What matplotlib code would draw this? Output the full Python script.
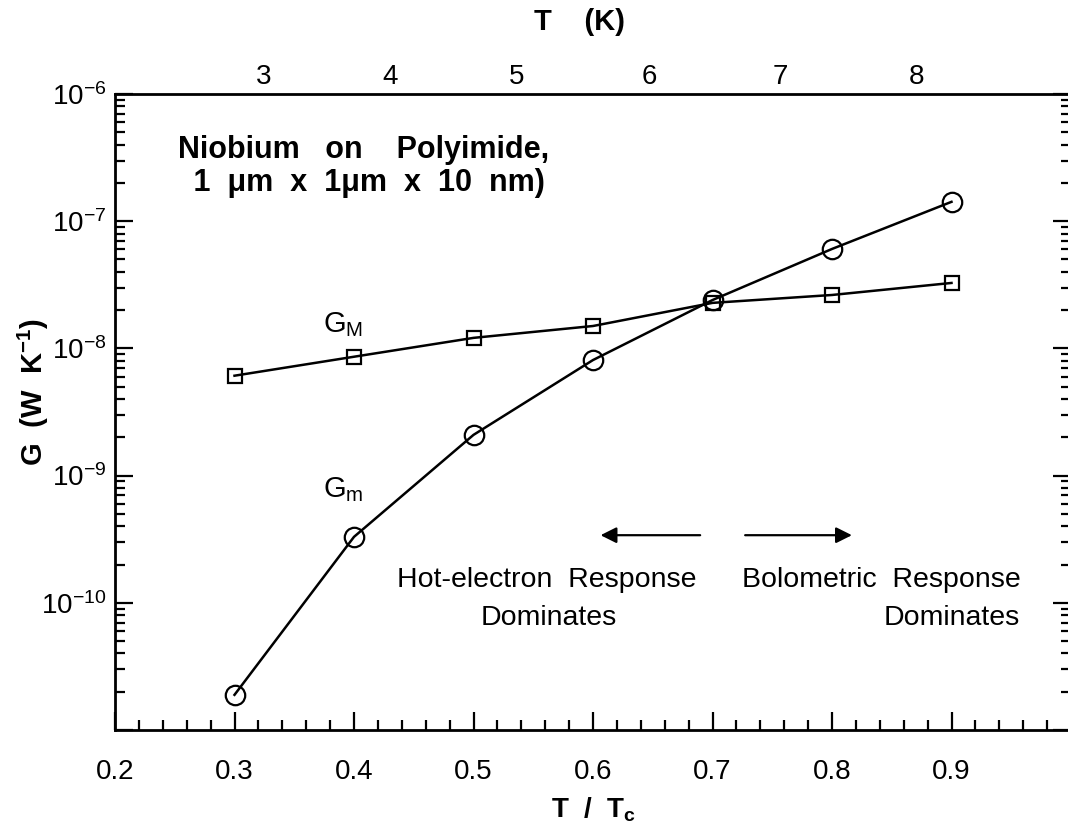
import matplotlib
matplotlib.use("Agg")
import matplotlib.pyplot as plt
import numpy as np
from matplotlib.ticker import FixedLocator, FixedFormatter, MultipleLocator, LogLocator, NullFormatter

plt.rcParams["font.family"] = ["Liberation Sans", "DejaVu Sans"]
plt.rcParams["mathtext.fontset"] = "custom"
plt.rcParams["mathtext.rm"] = "Liberation Sans"
plt.rcParams["mathtext.it"] = "Liberation Sans"
plt.rcParams["mathtext.bf"] = "Liberation Sans:bold"

# reduced temperature T/Tc of the measurements
t_red = [0.3, 0.4, 0.5, 0.6, 0.7, 0.8, 0.9]
# G_M (squares) and G_m (circles), W/K
g_big = [6.1e-9, 8.6e-9, 1.21e-8, 1.50e-8, 2.28e-8, 2.63e-8, 3.27e-8]
g_small = [1.89e-11, 3.30e-10, 2.09e-9, 8.1e-9, 2.40e-8, 6.05e-8, 1.42e-7]

# top axis: absolute temperature labels and where they sit on the T/Tc scale
top_T = ["3", "4", "5", "6", "7", "8"]
top_pos = [0.324, 0.430, 0.536, 0.647, 0.757, 0.871]

x_ticks = [0.2, 0.3, 0.4, 0.5, 0.6, 0.7, 0.8, 0.9]
x_tick_labels = ["0.2", "0.3", "0.4", "0.5", "0.6", "0.7", "0.8", "0.9"]
y_ticks = [1e-11, 1e-10, 1e-9, 1e-8, 1e-7, 1e-6]
y_tick_labels = ["", "$10^{\\mathregular{-}10}$", "$10^{\\mathregular{-}9}$", "$10^{\\mathregular{-}8}$",
                 "$10^{\\mathregular{-}7}$", "$10^{\\mathregular{-}6}$"]

fig = plt.figure(figsize=(10.68, 8.26), dpi=100, facecolor="white")
ax = fig.add_axes([115 / 1068, 96 / 826, 956 / 1068, 636 / 826])

ax.plot(t_red, g_big, color="black", linewidth=1.8, marker="s", markersize=10,
        markerfacecolor="none", markeredgewidth=1.6)
ax.plot(t_red, g_small, color="black", linewidth=1.8, marker="o", markersize=14,
        markerfacecolor="none", markeredgewidth=1.6)

ax.set_yscale("log")
ax.set_xlim(0.2, 1.0)
ax.set_ylim(1e-11, 1e-6)

ax.xaxis.set_major_locator(FixedLocator(x_ticks))
ax.xaxis.set_major_formatter(FixedFormatter(x_tick_labels))
ax.xaxis.set_minor_locator(MultipleLocator(0.02))
ax.yaxis.set_major_locator(FixedLocator(y_ticks))
ax.yaxis.set_major_formatter(FixedFormatter(y_tick_labels))
ax.yaxis.set_minor_locator(LogLocator(base=10, subs=np.arange(2, 10), numticks=20))
ax.yaxis.set_minor_formatter(NullFormatter())

ax.tick_params(which="both", direction="in", top=True, right=True, width=1.6, labelsize=20)
ax.tick_params(which="major", length=13)
ax.tick_params(which="minor", length=7)
ax.tick_params(axis="x", which="major", pad=21)
ax.tick_params(axis="y", which="major", pad=6)
for s in ax.spines.values():
    s.set_linewidth(2.0)

fig.text(593 / 1068, 1 - 810 / 826, "T  /  T$_\\mathbf{c}$", fontsize=20, fontweight="bold",
         ha="center", va="center")
fig.text(33 / 1068, 1 - 392 / 826, "G  (W  K$^{\\mathbf{-1}}$)", fontsize=21, fontweight="bold",
         ha="center", va="center", rotation=90)

ax2 = ax.twiny()
ax2.set_xlim(ax.get_xlim())
ax2.xaxis.set_major_locator(FixedLocator(top_pos))
ax2.xaxis.set_major_formatter(FixedFormatter(top_T))
ax2.xaxis.set_minor_locator(FixedLocator([]))
ax2.tick_params(axis="x", length=0, pad=3, labelsize=20)
for s in ax2.spines.values():
    s.set_visible(False)
fig.text(580 / 1068, 1 - 22 / 826, "T    (K)", fontsize=21, fontweight="bold",
         ha="center", va="center")

ax.text(0.066, 0.912, "Niobium   on    Polyimide,", transform=ax.transAxes,
        fontsize=22, fontweight="bold", ha="left", va="center")
ax.text(0.073, 0.860, " 1  \u03bcm  x  1\u03bcm  x  10  nm)", transform=ax.transAxes,
        fontsize=22, fontweight="bold", ha="left", va="center")

ax.text(0.374, 1.35e-8, "G$_\\mathregular{M}$", fontsize=21, ha="left", va="baseline")
ax.text(0.374, 6.8e-10, "G$_\\mathregular{m}$", fontsize=21, ha="left", va="baseline")

ax.annotate("", xy=(0.604, 3.4e-10), xytext=(0.692, 3.4e-10),
            arrowprops=dict(arrowstyle="-|>", color="black", lw=1.6, mutation_scale=24))
ax.annotate("", xy=(0.819, 3.4e-10), xytext=(0.725, 3.4e-10),
            arrowprops=dict(arrowstyle="-|>", color="black", lw=1.6, mutation_scale=24))

ax.text(0.5615, 1.52e-10, "Hot-electron  Response", fontsize=20.5, ha="center", va="center")
ax.text(0.563, 7.6e-11, "Dominates", fontsize=20.5, ha="center", va="center")
ax.text(0.725, 1.52e-10, "Bolometric  Response", fontsize=20.5, ha="left", va="center")
ax.text(0.957, 7.6e-11, "Dominates", fontsize=20.5, ha="right", va="center")

fig.savefig("out.png", dpi=100, facecolor="white")
